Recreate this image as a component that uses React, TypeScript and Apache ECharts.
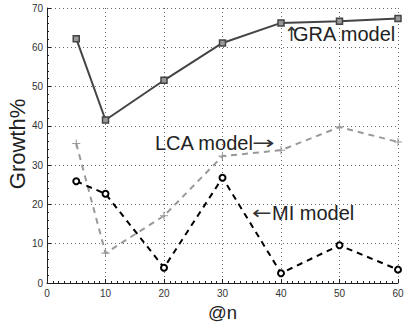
import React, { useEffect, useRef } from "react";
import * as echarts from "echarts";

const xValues = [5, 10, 20, 30, 40, 50, 60];
const graValues = [62.2, 41.5, 51.6, 61.1, 66.2, 66.6, 67.3];
const lcaValues = [35.5, 7.6, 17.1, 32.3, 33.8, 39.7, 35.9];
const miValues = [25.9, 22.7, 3.9, 26.8, 2.5, 9.6, 3.4];
const annotationLabels = ["GRA model", "LCA model", "MI model"];
const arrows = ["\u2191", "\u2192", "\u2190"];
const xTitle = "@n";
const yTitle = "Growth%";

const FONT = "Liberation Sans, Arial, Helvetica, sans-serif";
const PLUS = "path://M2.6,0H3.4V2.6H6V3.4H3.4V6H2.6V3.4H0V2.6H2.6Z";

function label(x: number, y: number, text: string) {
  return {
    type: "text",
    x,
    y,
    style: { text, font: `20px ${FONT}`, fill: "#222", align: "left", verticalAlign: "middle" },
  };
}
function arrow(x: number, y: number, text: string, sx: number, sy: number) {
  return {
    type: "text",
    x,
    y,
    scaleX: sx,
    scaleY: sy,
    style: { text, font: `18px DejaVu Sans`, fill: "#333", align: "left", verticalAlign: "middle" },
  };
}

export default function App() {
  const ref = useRef<HTMLDivElement>(null);
  useEffect(() => {
    if (!ref.current) return;
    const chart = echarts.init(ref.current, undefined, { renderer: "svg" });
    const pairs = (ys: number[]) => xValues.map((x, i) => [x, ys[i]]);
    const axisCommon = {
      axisLine: { show: true, lineStyle: { color: "#222", width: 1 } },
      axisTick: { show: true, inside: true, length: 4, lineStyle: { color: "#222" } },
      axisLabel: { color: "#333", fontSize: 10, fontFamily: FONT },
      splitLine: { show: true, lineStyle: { color: "#666", type: [1, 3], width: 1 } },
    };
    chart.setOption({
      animation: false,
      backgroundColor: "#fff",
      grid: { left: 47, right: 6, top: 8, bottom: 39, containLabel: false, outerBoundsMode: "none" },
      xAxis: {
        type: "value",
        min: 0,
        max: 60,
        interval: 10,
        ...axisCommon,
        minorTick: { show: true, splitNumber: 10, length: 2, lineStyle: { color: "#222" } },
        axisLabel: { ...axisCommon.axisLabel, margin: 5 },
        name: xTitle,
        nameLocation: "middle",
        nameGap: 18,
        nameTextStyle: { fontSize: 18.5, fontFamily: FONT, color: "#222" },
      },
      yAxis: {
        type: "value",
        min: 0,
        max: 70,
        interval: 10,
        ...axisCommon,
        minorTick: { show: true, splitNumber: 5, length: 2, lineStyle: { color: "#222" } },
        axisLabel: { ...axisCommon.axisLabel, margin: 4 },
      },
      series: [
        {
          type: "line",
          data: pairs(graValues),
          symbol: "rect",
          symbolSize: 6,
          lineStyle: { color: "#444", width: 2 },
          itemStyle: { color: "#999", borderColor: "#444", borderWidth: 1.5 },
        },
        {
          type: "line",
          data: pairs(lcaValues),
          symbol: PLUS,
          symbolSize: 8,
          lineStyle: { color: "#999", width: 2, type: [6, 5] },
          itemStyle: { color: "#999", borderWidth: 0 },
        },
        {
          type: "line",
          data: pairs(miValues),
          symbol: "emptyCircle",
          symbolSize: 6,
          lineStyle: { color: "#000", width: 2, type: [6, 5] },
          itemStyle: { color: "#000", borderColor: "#000", borderWidth: 1.8 },
        },
      ],
      graphic: [
        {
          type: "text",
          x: 17,
          y: 144,
          rotation: Math.PI / 2,
          style: { text: yTitle, font: `22px ${FONT}`, fill: "#222", align: "center", verticalAlign: "middle" },
        },
        arrow(284, 34, arrows[0], 1, 1.1),
        label(293, 34, annotationLabels[0]),
        label(155, 143, annotationLabels[1]),
        arrow(252, 143, arrows[1], 1.5, 1),
        arrow(252, 213, arrows[2], 1.3, 1),
        label(272, 213, annotationLabels[2]),
      ],
    });
    return () => chart.dispose();
  }, []);
  return <div ref={ref} style={{ width: 404, height: 322, position: "absolute", left: 0, top: 0 }} />;
}
